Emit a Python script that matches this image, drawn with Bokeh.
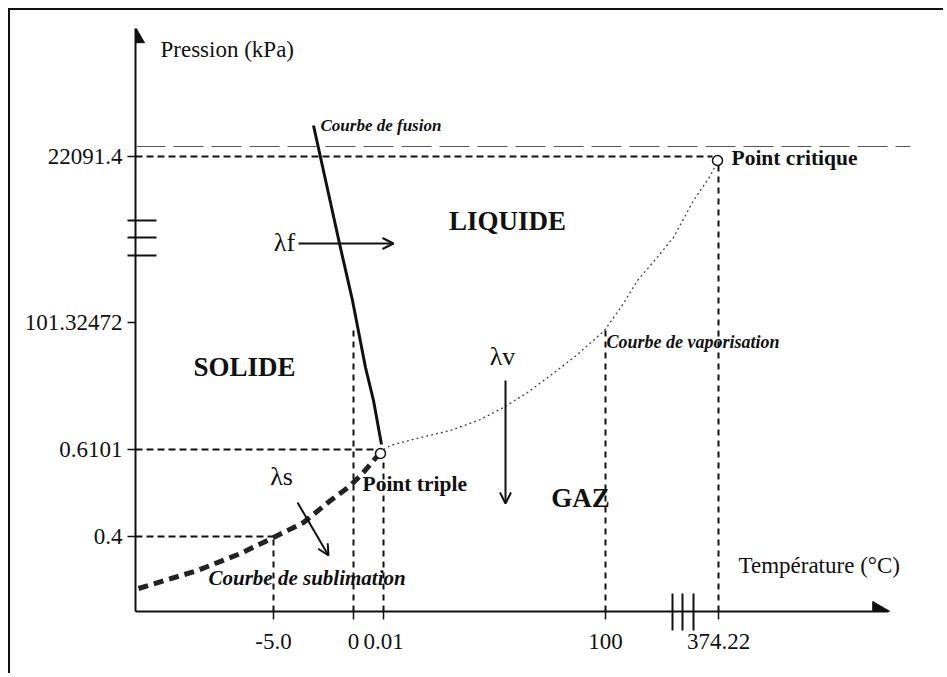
from bokeh.plotting import figure
from bokeh.models import Range1d, FixedTicker, Span, Arrow, OpenHead, ColumnDataSource, Label
from bokeh.core.properties import value
from bokeh.embed import file_html
from bokeh.resources import INLINE
import numpy as np

# ---- schematic diagram units (the chart is not to scale) ----
X_AXIS_END = 753
X_VIEW_END = 775
Y_MAX = 583

# axis ticks: real values shown as labels at their schematic positions
T_TICK_LABELS = ["-5.0", "0", "0.01", "100", "374.22"]
T_TICK_POS = [138, 218, 248, 470, 583]
P_TICK_LABELS = ["0.4", "0.6101", "101.32472", "22091.4"]
P_TICK_POS = [75, 162, 289, 455]

# axis break marks (drawn as minor ticks)
XBREAK_X = [537, 547, 558]
YBREAK_Y = [391, 374, 356]

# phase boundaries (schematic coordinates)
SUB_X = [3, 62, 105, 138, 168, 195, 215, 227, 244]
SUB_Y = [23, 41, 58, 74, 89, 111, 126, 138, 158]
FUS_X = [178, 204, 217, 230, 238, 246]
FUS_Y = [486, 368, 311, 244, 211, 167]
VAP_X = [248, 255, 285, 315, 345, 368, 392, 415, 442, 469, 486, 502, 520, 538, 558, 575, 581]
VAP_Y = [162, 166, 174, 181, 192, 204, 219, 236, 257, 281, 305, 331, 352, 374, 411, 436, 448]

# special points
POINT_NAMES = ["Point triple", "Point critique"]
POINT_X = [245, 582]
POINT_Y = [158, 451]

# guide lines to the axes
GUIDE_H_Y = [455, 162, 75]
GUIDE_H_X1 = [577, 240, 138]
GUIDE_V_X = [138, 218, 248, 470, 583]
GUIDE_V_Y1 = [75, 281, 156, 281, 446]

# text annotations
REGION_LABELS = ["LIQUIDE", "SOLIDE", "GAZ"]
REGION_X = [372, 109, 445]
REGION_Y = [391, 245, 114]

CURVE_LABELS = ["Courbe de fusion", "Courbe de vaporisation", "Courbe de sublimation"]
CURVE_LABEL_X = [185, 471, 73]
CURVE_LABEL_Y = [486, 270, 34]
CURVE_LABEL_SIZE = ["17px", "18px", "21px"]

POINT_LABEL_X = [227, 596]
POINT_LABEL_Y = [128, 454]

LAMBDA_LABELS = ["λf", "λv", "λs"]
LAMBDA_X = [149, 367, 146]
LAMBDA_Y = [369, 255, 135]
LAMBDA_X0 = [163, 370, 162]
LAMBDA_Y0 = [368, 231, 109]
LAMBDA_X1 = [258, 370, 193]
LAMBDA_Y1 = [368, 108, 56]

FONT = "Liberation Serif"

p = figure(width=935, height=665,
           x_range=Range1d(0, X_VIEW_END), y_range=Range1d(0, Y_MAX),
           output_backend="svg", toolbar_location=None,
           min_border_left=125, min_border_right=35,
           min_border_top=18, min_border_bottom=64,
           outline_line_color=None,
           styles={"margin-left": "8px", "margin-top": "8px",
                   "border-left": "2px solid #111", "border-top": "2px solid #111"})

p.xgrid.visible = False
p.ygrid.visible = False

for ax in (p.xaxis[0], p.yaxis[0]):
    ax.axis_line_width = 2
    ax.axis_line_color = "#111"
    ax.major_tick_in = 0
    ax.major_tick_out = 8
    ax.major_tick_line_width = 1.5
    ax.major_tick_line_color = "#111"
    ax.minor_tick_line_color = "#111"
    ax.minor_tick_line_width = 2
    ax.major_label_text_font = FONT
    ax.major_label_text_font_size = "23px"
    ax.major_label_text_color = "#111"

p.xaxis.bounds = (0, X_AXIS_END)
p.xaxis.ticker = FixedTicker(ticks=T_TICK_POS, minor_ticks=XBREAK_X)
p.xaxis.minor_tick_in = 18
p.xaxis.minor_tick_out = 19
p.xaxis.major_label_overrides = {pos: lab for pos, lab in zip(T_TICK_POS, T_TICK_LABELS)}
p.xaxis.major_label_standoff = 3
p.yaxis.ticker = FixedTicker(ticks=P_TICK_POS, minor_ticks=YBREAK_Y)
p.yaxis.minor_tick_in = 21
p.yaxis.minor_tick_out = 8
p.yaxis.major_label_overrides = {pos: lab for pos, lab in zip(P_TICK_POS, P_TICK_LABELS)}
p.yaxis.major_label_standoff = 5

# scan fold artifact
p.add_layout(Span(location=465, dimension="width", line_color="#555",
                  line_width=1.2, line_dash="30 8"))

# guide dashed lines
p.segment(x0=[0] * len(GUIDE_H_Y), y0=GUIDE_H_Y, x1=GUIDE_H_X1, y1=GUIDE_H_Y,
          line_color="#111", line_width=2, line_dash="7 4")
p.segment(x0=GUIDE_V_X, y0=[0] * len(GUIDE_V_X), x1=GUIDE_V_X, y1=GUIDE_V_Y1,
          line_color="#111", line_width=2, line_dash="6 5")

# phase curves
p.line(SUB_X, SUB_Y, line_color="#222", line_width=5, line_dash="10 6")
p.line(FUS_X, FUS_Y, line_color="#111", line_width=3)
p.line(VAP_X, VAP_Y, line_color="#444", line_width=1.3, line_dash="2 3")

# special points
p.scatter(POINT_X, POINT_Y, size=10, marker="circle", fill_color="white",
          line_color="#111", line_width=1.5)

# axis arrow heads
p.scatter([X_AXIS_END - 10], [0], marker="triangle", size=20, angle=-np.pi / 2,
          fill_color="#111", line_color="#111")
p.scatter([0], [Y_MAX - 9], marker="triangle", size=18,
          fill_color="#111", line_color="#111")

# lambda arrows
arr_src = ColumnDataSource(dict(x0=LAMBDA_X0, y0=LAMBDA_Y0, x1=LAMBDA_X1, y1=LAMBDA_Y1))
p.add_layout(Arrow(source=arr_src, x_start="x0", y_start="y0", x_end="x1", y_end="y1",
                   line_color="#111", line_width=2,
                   end=OpenHead(size=11, line_color="#111", line_width=2)))

# texts
p.text(x=REGION_X, y=REGION_Y, text=REGION_LABELS, text_font=value(FONT),
       text_font_size=value("27px"), text_font_style="bold", text_color="#111",
       text_align="center", text_baseline="middle")
p.text(x=CURVE_LABEL_X, y=CURVE_LABEL_Y, text=CURVE_LABELS, text_font=value(FONT),
       text_font_size=CURVE_LABEL_SIZE, text_font_style="bold italic", text_color="#111",
       text_align="left", text_baseline="middle")
p.text(x=POINT_LABEL_X, y=POINT_LABEL_Y, text=POINT_NAMES, text_font=value(FONT),
       text_font_size=value("21.5px"), text_font_style="bold", text_color="#111",
       text_align="left", text_baseline="middle")
p.text(x=LAMBDA_X, y=LAMBDA_Y, text=LAMBDA_LABELS, text_font=value(FONT),
       text_font_size=value("26px"), text_color="#111",
       text_align="center", text_baseline="middle")

p.add_layout(Label(x=25, y=562, text="Pression (kPa)", text_font=FONT,
                   text_font_size="23px", text_color="#111", text_baseline="middle"))
p.add_layout(Label(x=603, y=46, text="Température (°C)", text_font=FONT,
                   text_font_size="23px", text_color="#111", text_baseline="middle"))

open("out.html", "w").write(file_html(p, INLINE))
